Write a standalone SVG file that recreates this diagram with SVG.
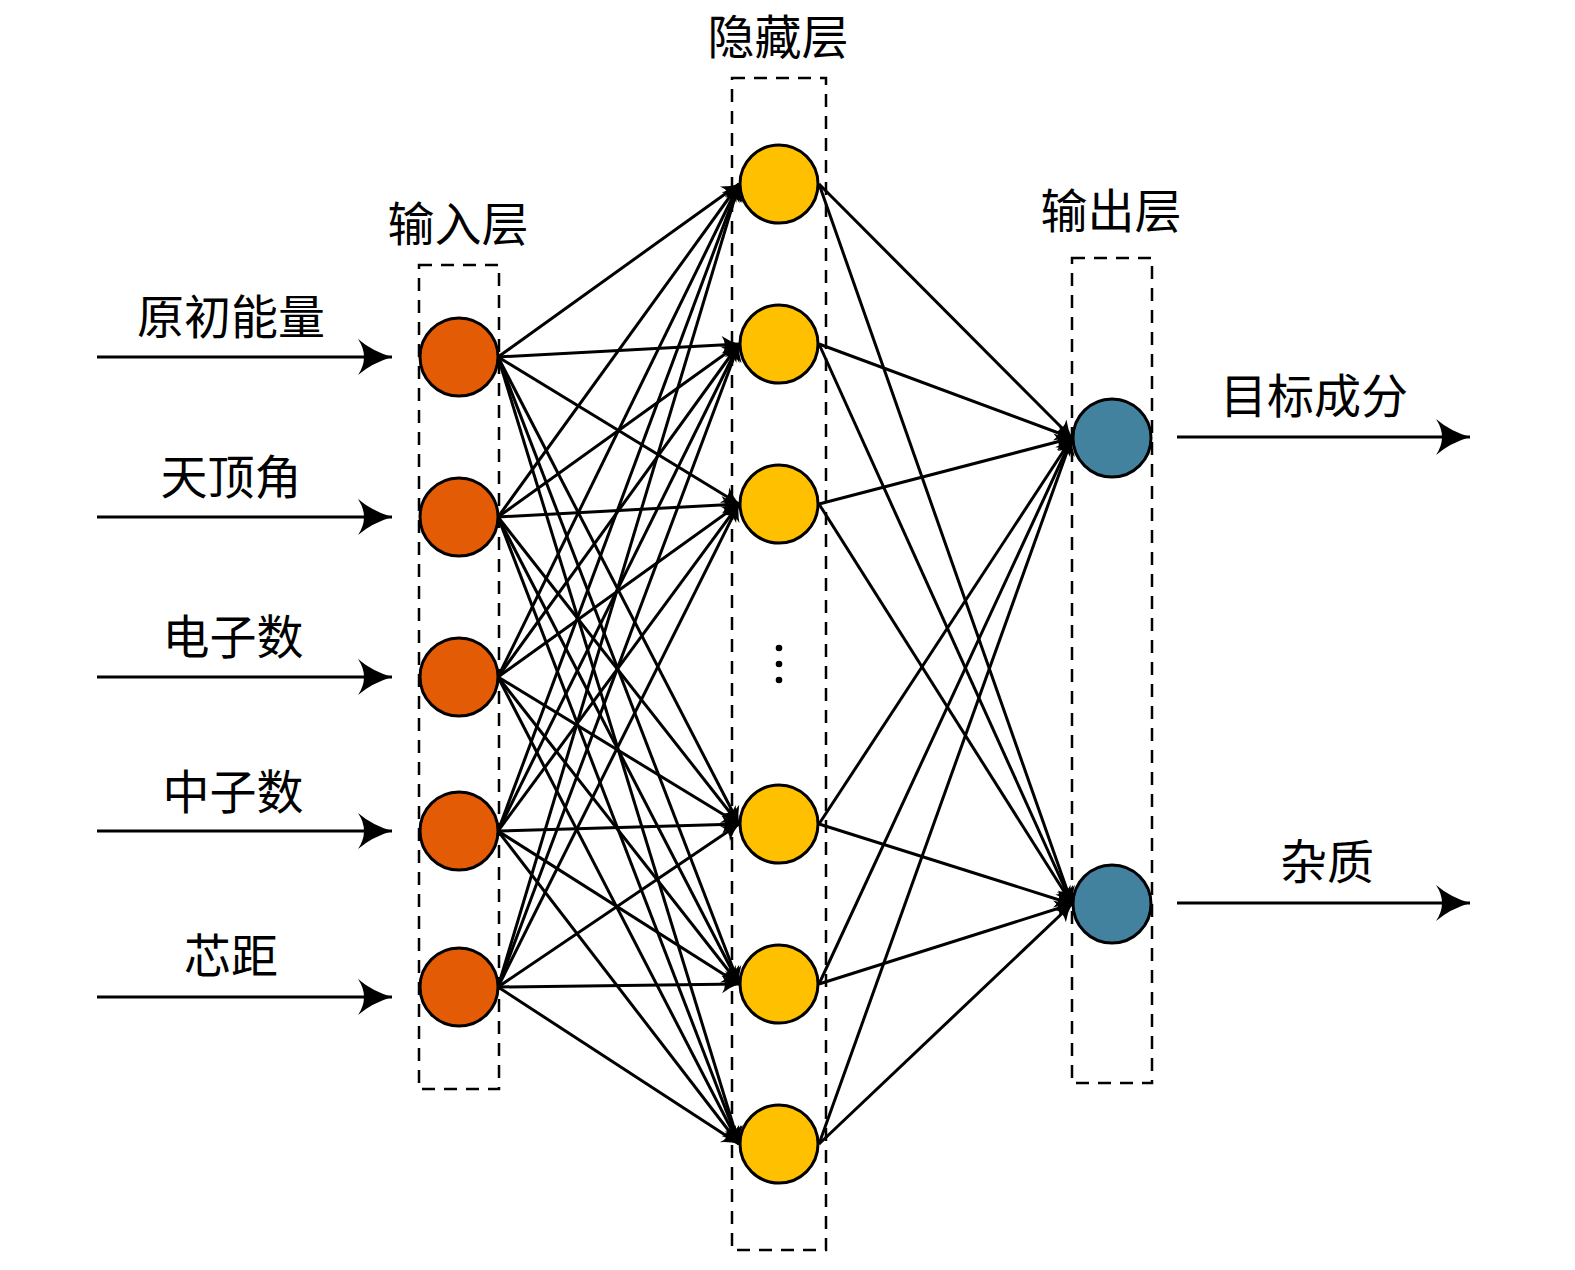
<svg xmlns="http://www.w3.org/2000/svg" width="1575" height="1270" viewBox="0 0 1575 1270">
<style>
.lbl{font-family:"Noto Sans CJK SC","Liberation Serif",serif;font-size:47px;fill:#000;text-anchor:middle}
.box{fill:none;stroke:#000;stroke-width:2.5;stroke-dasharray:13 9}
.in{fill:#E35B05;stroke:#000;stroke-width:3}
.hid{fill:#FFC000;stroke:#000;stroke-width:3}
.out{fill:#43829F;stroke:#000;stroke-width:3}
#connectors line{stroke:#000;stroke-width:3;fill:none;marker-end:url(#sa)}
#connectors line.io{stroke-width:3;marker-end:url(#la)}
</style>
<defs>
<marker id="la" markerUnits="userSpaceOnUse" markerWidth="40" markerHeight="40" viewBox="-36 -20 40 40" refX="0" refY="0" orient="auto">
<path d="M0,0 Q-20,-6 -34,-18 Q-22,0 -34,18 Q-20,6 0,0 Z" fill="#000"/>
</marker>
<marker id="sa" markerUnits="userSpaceOnUse" markerWidth="24" markerHeight="24" viewBox="-20 -12 24 24" refX="0" refY="0" orient="auto">
<path d="M0,0 Q-9,-3 -17,-9 Q-11,0 -17,9 Q-9,3 0,0 Z" fill="#000"/>
</marker>
</defs>
<g id="connectors">
<line x1="498" y1="357" x2="739" y2="184"/><line x1="498" y1="357" x2="739" y2="344"/><line x1="498" y1="357" x2="739" y2="504"/><line x1="498" y1="357" x2="739" y2="824"/><line x1="498" y1="357" x2="739" y2="984"/><line x1="498" y1="357" x2="739" y2="1144"/>
<line x1="498" y1="517" x2="739" y2="184"/><line x1="498" y1="517" x2="739" y2="344"/><line x1="498" y1="517" x2="739" y2="504"/><line x1="498" y1="517" x2="739" y2="824"/><line x1="498" y1="517" x2="739" y2="984"/><line x1="498" y1="517" x2="739" y2="1144"/>
<line x1="498" y1="677" x2="739" y2="184"/><line x1="498" y1="677" x2="739" y2="344"/><line x1="498" y1="677" x2="739" y2="504"/><line x1="498" y1="677" x2="739" y2="824"/><line x1="498" y1="677" x2="739" y2="984"/><line x1="498" y1="677" x2="739" y2="1144"/>
<line x1="498" y1="831" x2="739" y2="184"/><line x1="498" y1="831" x2="739" y2="344"/><line x1="498" y1="831" x2="739" y2="504"/><line x1="498" y1="831" x2="739" y2="824"/><line x1="498" y1="831" x2="739" y2="984"/><line x1="498" y1="831" x2="739" y2="1144"/>
<line x1="498" y1="987" x2="739" y2="184"/><line x1="498" y1="987" x2="739" y2="344"/><line x1="498" y1="987" x2="739" y2="504"/><line x1="498" y1="987" x2="739" y2="824"/><line x1="498" y1="987" x2="739" y2="984"/><line x1="498" y1="987" x2="739" y2="1144"/>
<line x1="819" y1="184" x2="1072" y2="438"/><line x1="819" y1="184" x2="1072" y2="904"/>
<line x1="819" y1="344" x2="1072" y2="438"/><line x1="819" y1="344" x2="1072" y2="904"/>
<line x1="819" y1="504" x2="1072" y2="438"/><line x1="819" y1="504" x2="1072" y2="904"/>
<line x1="819" y1="824" x2="1072" y2="438"/><line x1="819" y1="824" x2="1072" y2="904"/>
<line x1="819" y1="984" x2="1072" y2="438"/><line x1="819" y1="984" x2="1072" y2="904"/>
<line x1="819" y1="1144" x2="1072" y2="438"/><line x1="819" y1="1144" x2="1072" y2="904"/>
<line class="io" x1="97" y1="357" x2="392" y2="357"/>
<line class="io" x1="97" y1="517" x2="392" y2="517"/>
<line class="io" x1="97" y1="677" x2="392" y2="677"/>
<line class="io" x1="97" y1="831" x2="392" y2="831"/>
<line class="io" x1="97" y1="997" x2="392" y2="997"/>
<line class="io" x1="1177" y1="437" x2="1470" y2="437"/>
<line class="io" x1="1177" y1="903" x2="1470" y2="903"/>
</g>
<g id="layer-boxes">
<rect id="input-box" class="box" x="419" y="265" width="80" height="824"/>
<rect id="hidden-box" class="box" x="732" y="78" width="94" height="1172"/>
<rect id="output-box" class="box" x="1072" y="258" width="80" height="825"/>
</g>
<g id="input-nodes">
<circle id="in1" class="in" cx="459" cy="357" r="39"/>
<circle id="in2" class="in" cx="459" cy="517" r="39"/>
<circle id="in3" class="in" cx="459" cy="677" r="39"/>
<circle id="in4" class="in" cx="459" cy="831" r="39"/>
<circle id="in5" class="in" cx="459" cy="987" r="39"/>
</g>
<g id="hidden-nodes">
<circle id="h1" class="hid" cx="779" cy="184" r="39"/>
<circle id="h2" class="hid" cx="779" cy="344" r="39"/>
<circle id="h3" class="hid" cx="779" cy="504" r="39"/>
<circle id="h4" class="hid" cx="779" cy="824" r="39"/>
<circle id="h5" class="hid" cx="779" cy="984" r="39"/>
<circle id="h6" class="hid" cx="779" cy="1144" r="39"/>
<g id="ellipsis" fill="#000"><circle cx="779" cy="648" r="3.3"/><circle cx="779" cy="664" r="3.3"/><circle cx="779" cy="680" r="3.3"/></g>
</g>
<g id="output-nodes">
<circle id="o1" class="out" cx="1112" cy="438" r="39"/>
<circle id="o2" class="out" cx="1112" cy="904" r="39"/>
</g>
<g id="labels">
<text class="lbl" x="231" y="334">原初能量</text>
<text class="lbl" x="231" y="494">天顶角</text>
<text class="lbl" x="233" y="654">电子数</text>
<text class="lbl" x="233" y="809">中子数</text>
<text class="lbl" x="231" y="973">芯距</text>
<text class="lbl" x="458" y="241">输入层</text>
<text class="lbl" x="778" y="54">隐藏层</text>
<text class="lbl" x="1111" y="228">输出层</text>
<text class="lbl" x="1314" y="413">目标成分</text>
<text class="lbl" x="1327" y="879">杂质</text>
</g>
</svg>
